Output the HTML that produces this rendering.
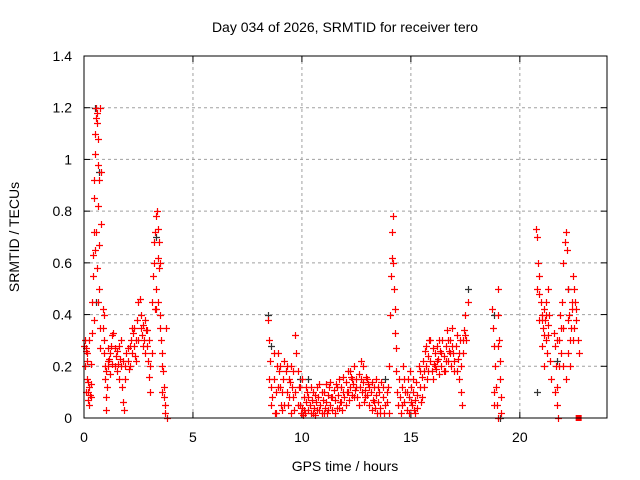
<!DOCTYPE html>
<html><head><meta charset="utf-8"><style>
html,body{margin:0;padding:0;background:#fff;}
svg{display:block;font-family:"Liberation Sans",sans-serif;}
</style></head><body>
<svg id="chart" width="640" height="480">
<text x="345" y="32" text-anchor="middle" font-size="14">Day 034 of 2026, SRMTID for receiver tero</text>
<text x="345" y="471" text-anchor="middle" font-size="14">GPS time / hours</text>
<text transform="translate(19,237) rotate(-90)" text-anchor="middle" font-size="14">SRMTID / TECUs</text>
<g id="grid"></g><g id="ticks"></g><g id="black"></g><g id="red"></g>
<rect x="84" y="56" width="523" height="362" fill="none" stroke="#000" stroke-width="1"/>
</svg>
<script>
const xTicks=[0,5,10,15,20];
const yTicks=[0,0.2,0.4,0.6,0.8,1,1.2,1.4];
const yTickLabels=["0","0.2","0.4","0.6","0.8","1","1.2","1.4"];
const redTimes=[0.02,0.05,0.08,0.1,0.12,0.15,0.17,0.2,0.22,0.25,0.27,0.3,0.32,0.35,0.38,0.4,0.42,0.44,0.46,0.48,0.5,0.52,0.54,0.56,0.58,0.6,0.62,0.64,0.66,0.68,0.7,0.72,0.74,0.45,0.5,0.55,0.6,0.65,0.7,0.75,0.78,0.8,0.85,0.88,0.9,0.92,0.95,0.98,1.0,1.02,1.05,1.08,1.1,1.15,1.2,1.25,1.3,1.35,1.4,1.45,1.5,1.55,1.6,1.65,1.7,1.75,1.8,1.85,1.9,1.95,2.0,2.05,2.1,2.15,2.2,2.25,2.3,2.35,2.4,2.45,2.5,2.55,2.6,2.65,2.7,2.75,2.8,2.85,2.9,2.95,3.0,3.02,3.05,3.1,3.15,3.2,3.25,3.3,3.35,3.4,3.45,3.38,3.42,3.32,3.28,3.48,3.5,3.55,3.6,3.62,3.65,3.68,3.7,3.72,3.58,3.75,3.8,8.45,8.5,8.55,8.6,8.65,8.7,8.75,8.8,8.85,8.9,8.95,9.0,9.05,9.1,9.15,9.2,9.25,9.3,9.35,9.4,9.45,9.5,9.55,9.6,9.65,9.7,9.75,9.8,9.85,9.9,9.95,10.0,10.1,10.15,10.2,10.25,10.3,10.35,10.4,10.45,10.5,10.55,10.6,10.65,10.7,10.75,10.8,10.85,10.9,10.95,11.0,11.05,11.1,11.15,11.2,11.25,11.3,11.35,11.4,11.45,11.5,11.55,11.6,11.65,11.7,11.75,11.8,11.85,11.9,11.95,12.0,12.05,12.1,12.15,12.2,12.25,12.3,12.35,12.4,12.45,12.5,12.55,12.6,12.65,12.7,12.75,12.8,12.85,12.9,12.95,13.0,13.05,13.1,13.15,13.2,13.25,13.3,13.35,13.4,13.45,13.5,13.55,13.6,13.65,13.7,13.75,13.9,13.95,14.0,14.05,14.1,14.12,14.15,14.18,14.2,14.22,14.25,14.28,14.3,14.32,14.35,14.4,14.45,14.5,14.55,14.6,14.65,14.7,14.75,14.8,14.85,14.9,14.95,15.0,15.05,15.1,15.15,15.2,15.25,15.3,15.35,15.4,15.45,15.5,15.55,15.6,15.65,15.7,15.75,15.8,15.85,15.9,15.95,16.0,16.05,16.1,16.15,16.2,16.25,16.3,16.35,16.4,16.45,16.5,16.55,16.6,16.65,16.7,16.75,16.8,16.85,16.9,16.95,17.0,17.05,17.1,17.15,17.2,17.25,17.3,17.35,17.4,17.45,17.5,17.55,17.6,18.7,18.75,18.8,18.85,18.9,18.95,19.0,19.02,19.05,19.08,19.1,19.12,19.15,18.8,19.0,20.75,20.8,20.85,20.9,20.95,21.0,21.05,21.1,21.15,21.2,21.25,21.3,20.9,21.0,21.1,21.2,21.3,21.35,21.4,21.45,21.55,21.6,21.65,21.7,21.72,21.75,21.8,21.85,21.9,21.95,22.0,22.05,22.1,22.15,22.2,22.25,22.3,22.35,22.4,22.45,22.5,22.55,22.6,22.65,22.7,22.0,22.1,22.2,22.3,22.45];
const redValues=[.28,.3,.26,.27,.22,.15,.1,.07,.12,.05,.09,.13,.21,.33,.45,.55,.63,.72,.85,.92,1.02,1.1,1.16,1.2,1.14,1.18,1.08,.98,.82,.67,.5,.35,.27,.38,.65,.72,.58,.45,.92,1.2,.95,.75,.42,.35,.3,.25,.2,.15,.08,.03,.12,.22,.27,.23,.25,.28,.21,.33,.27,.24,.18,.21,.28,.23,.2,.12,.06,.03,.15,.25,.22,.19,.28,.3,.35,.33,.28,.24,.3,.38,.45,.46,.4,.32,.36,.3,.25,.34,.28,.22,.16,.1,.2,.45,.55,.68,.72,.78,.8,.73,.68,.62,.58,.5,.42,.4,.35,.3,.25,.18,.12,.08,.05,.02,.2,.35,.0,.38,.3,.22,.12,.08,.15,.02,.1,.2,.25,.18,.12,.05,.03,.15,.22,.18,.1,.05,.08,.14,.2,.12,.08,.03,.32,.25,.18,.12,.05,.02,.04,.08,.02,.06,.1,.03,.05,.12,.07,.02,.04,.09,.06,.03,.08,.13,.05,.02,.07,.1,.04,.06,.02,.09,.12,.05,.08,.03,.11,.07,.13,.04,.09,.15,.06,.12,.03,.1,.08,.14,.1,.18,.07,.12,.16,.09,.13,.2,.11,.15,.08,.17,.12,.22,.1,.14,.06,.11,.16,.09,.13,.05,.1,.03,.07,.12,.04,.09,.02,.06,.1,.04,.14,.08,.02,.06,.12,.2,.4,.55,.62,.72,.78,.6,.5,.42,.33,.27,.18,.1,.05,.15,.08,.02,.12,.2,.06,.1,.03,.15,.08,.18,.12,.05,.1,.03,.07,.14,.09,.2,.12,.06,.16,.22,.18,.26,.2,.15,.24,.3,.22,.18,.27,.21,.25,.19,.28,.23,.17,.26,.2,.3,.24,.18,.28,.34,.22,.26,.3,.2,.35,.25,.18,.28,.32,.23,.15,.3,.1,.05,.25,.34,.4,.3,.45,.42,.35,.28,.2,.12,.05,.5,.4,.3,.22,.15,.08,.02,.1,.0,.73,.7,.6,.55,.45,.4,.35,.42,.38,.3,.25,.32,.38,.28,.2,.45,.5,.4,.22,.15,.33,.28,.2,.12,.05,.0,.3,.4,.35,.45,.6,.68,.72,.65,.5,.4,.3,.35,.42,.55,.5,.45,.38,.3,.25,.2,.15,.25,.2,.3];
const redTimesExtra=[0.05,0.1,0.15,0.2,0.25,0.3,0.9,1.0,1.1,1.2,1.3,1.4,1.5,1.6,1.7,1.8,1.9,2.0,2.1,2.2,2.3,2.4,2.5,2.6,2.7,2.8,2.9,3.0,3.1,3.2,3.3,3.4,3.5,3.6,8.5,8.6,8.7,8.8,8.9,9.0,9.1,9.2,9.3,9.4,9.5,9.6,9.7,9.8,9.9,10.0,10.05,10.1,10.2,10.3,10.4,10.5,10.6,10.7,10.8,10.9,11.0,11.1,11.2,11.3,11.4,11.5,11.6,11.7,11.8,11.9,12.0,12.1,12.2,12.3,12.4,12.5,12.6,12.7,12.8,12.9,13.0,13.1,13.2,13.3,13.4,13.5,13.6,13.7,13.8,13.9,14.0,14.6,14.7,14.8,14.9,15.0,15.1,15.2,15.3,15.4,15.5,15.6,15.7,15.8,15.9,16.0,16.1,16.2,16.3,16.4,16.5,16.6,16.7,16.8,16.9,17.0,17.1,17.2,17.3,17.4,17.5,20.8,20.9,21.0,21.1,21.2,21.3,21.6,21.7,21.8,21.9,22.0,22.2,22.4,22.5,22.6,19.0,18.8];
const redValuesExtra=[.2,.1,.25,.14,.3,.08,.4,.18,.2,.17,.32,.2,.26,.15,.3,.22,.2,.27,.2,.25,.35,.22,.3,.35,.28,.38,.34,.3,.25,.6,.42,.45,.6,.1,.15,.05,.25,.02,.12,.2,.1,.05,.2,.15,.02,.18,.1,.05,.12,.15,.01,.03,.12,.08,.02,.1,.01,.12,.03,.1,.02,.13,.03,.14,.08,.02,.12,.04,.06,.16,.05,.1,.18,.15,.08,.12,.05,.15,.2,.08,.15,.12,.14,.06,.15,.12,.02,.12,.05,.1,.02,.05,.15,.1,.02,.06,.15,.02,.04,.18,.08,.12,.28,.18,.3,.15,.2,.22,.3,.25,.18,.22,.3,.25,.28,.22,.18,.25,.2,.3,.32,.5,.48,.38,.32,.4,.36,.1,.3,.2,.25,.35,.38,.45,.35,.42,.28,.05];
const blackTimes=[0.5,0.55,0.7,3.3,8.45,8.6,9.9,10.3,13.8,17.6,18.8,19.1,20.8,21.7,22.2];
const blackValues=[1.2,.45,.95,.7,.4,.28,.15,.15,.15,.5,.4,.0,.1,.22,.5];
const markerTimes=[22.7];
const markerValues=[0];
const X0=84,X1=607,Y0=418,Y1=56;
const xs=t=>X0+t/24*(X1-X0);
const ys=v=>Y0-v/1.4*(Y0-Y1);
const NS="http://www.w3.org/2000/svg";
const grid=document.getElementById('grid'),ticks=document.getElementById('ticks');
function mk(tag,attrs,parent){const e=document.createElementNS(NS,tag);for(const k in attrs)e.setAttribute(k,attrs[k]);parent.appendChild(e);return e;}
xTicks.forEach((t,i)=>{
  const x=xs(t);
  if(i>0){const g=mk('line',{x1:x,x2:x,y1:Y0,y2:Y1,stroke:'#a0a0a0','stroke-dasharray':'3,3'},grid);
  
  }
  mk('line',{x1:x,x2:x,y1:Y0,y2:Y0-6,stroke:'#000'},ticks);
  mk('line',{x1:x,x2:x,y1:Y1,y2:Y1+6,stroke:'#000'},ticks);
  const l=mk('text',{x:x,y:Y0+24,'text-anchor':'middle','font-size':14},ticks);l.textContent=t;
  
  
});
yTicks.forEach((v,i)=>{
  const y=ys(v);
  if(i>0&&i<yTicks.length-1){const g=mk('line',{x1:X0,x2:X1,y1:y,y2:y,stroke:'#a0a0a0','stroke-dasharray':'3,3'},grid);
  
  }
  mk('line',{x1:X0,x2:X0+6,y1:y,y2:y,stroke:'#000'},ticks);
  mk('line',{x1:X1,x2:X1-6,y1:y,y2:y,stroke:'#000'},ticks);
  const l=mk('text',{x:X0-12,y:y+5,'text-anchor':'end','font-size':14},ticks);l.textContent=yTickLabels[i];
  
  
});
function plus(ts,vs,color,g,name){
  let d='';
  ts.forEach((t,i)=>{const x=Math.round(xs(t))+.5,y=Math.round(ys(vs[i]))+.5;d+=`M${x-3.5},${y}h7M${x},${y-3.5}v7`;});
  const p=mk('path',{d:d,stroke:color,'stroke-width':1.2,fill:'none'},g);
  
  
}
plus(blackTimes,blackValues,'#333',document.getElementById('black'),'black-series-points');
plus(redTimes,redValues,'#ff0000',document.getElementById('red'),'red-series-points');
plus(redTimesExtra,redValuesExtra,'#ff0000',document.getElementById('red'),'red-series-points-extra');
markerTimes.forEach((t,i)=>{
  const r=mk('rect',{x:xs(t)-3,y:ys(markerValues[i])-3,width:6,height:6,fill:'#ff0000'},document.getElementById('red'));
  
  
});
</script>
</body></html>
